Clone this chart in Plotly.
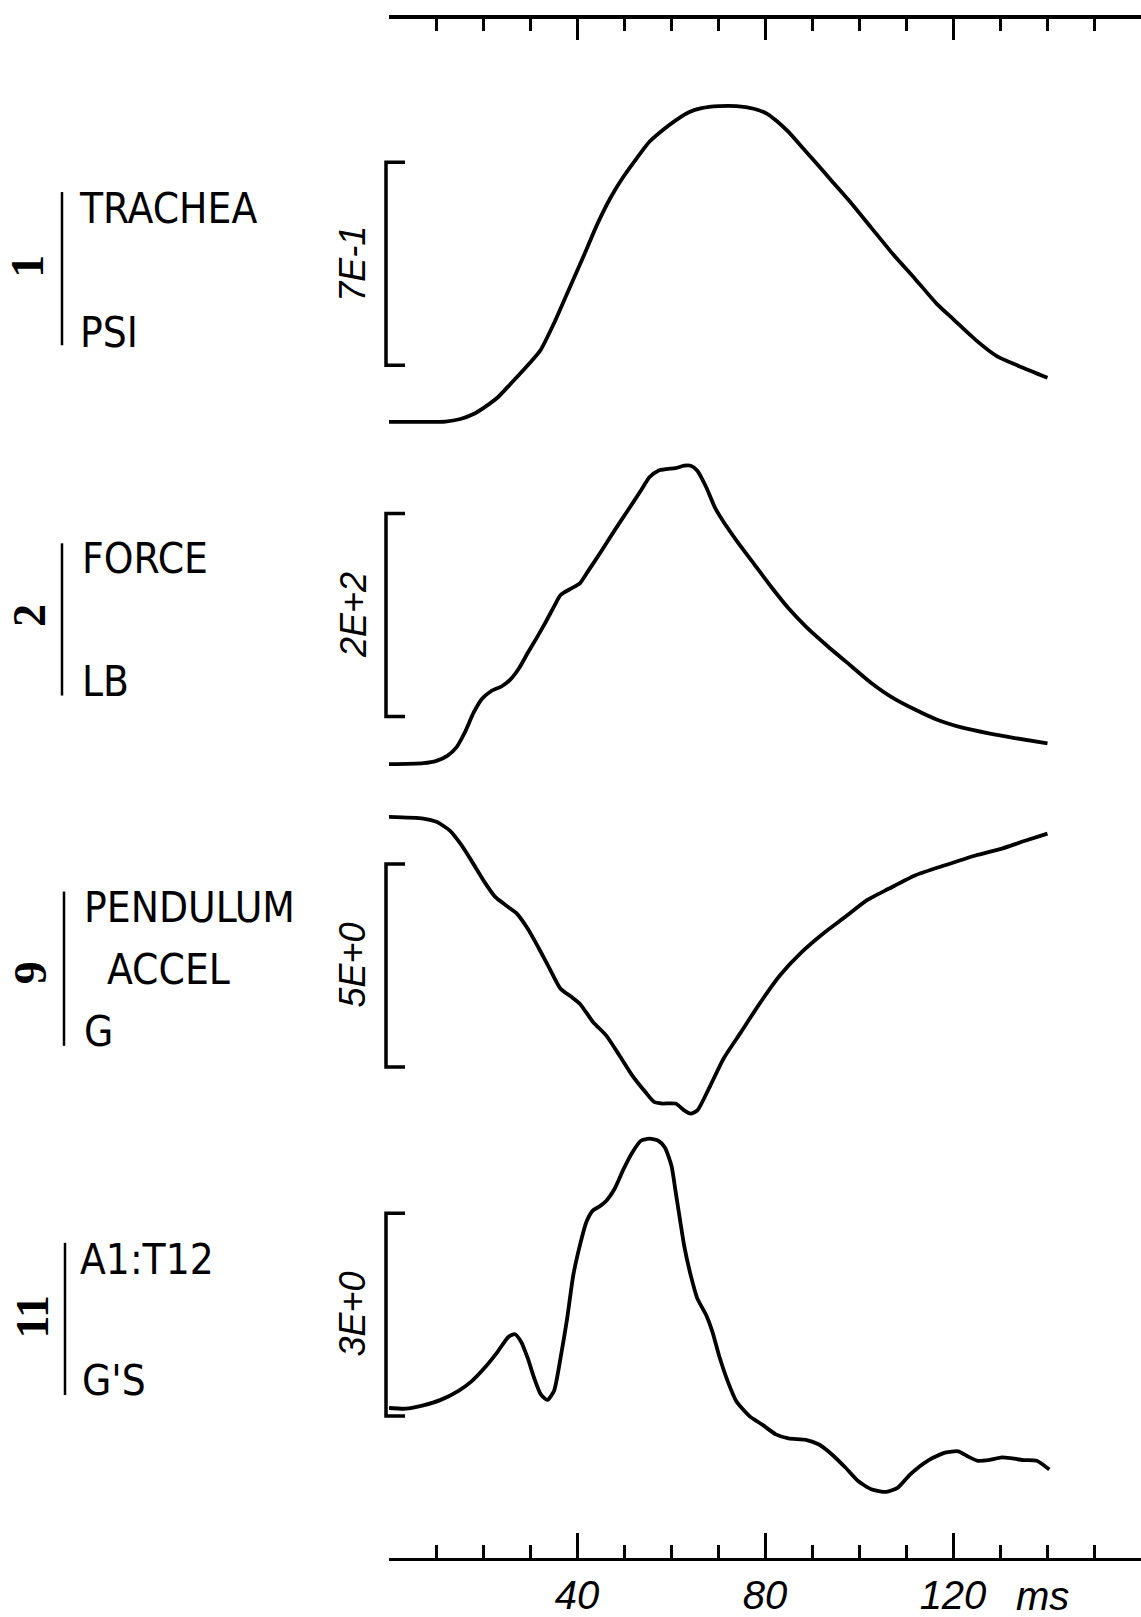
import plotly.graph_objects as go

# ---------------- data (time in ms, values in channel units) ----------------
t1 = [0, 7.3, 12.0, 15.2, 18.0, 20.3, 23.1, 25.8, 30.0, 32.3, 35.1, 37.9, 41.6, 44.3, 47.1, 49.9, 52.7, 55.4, 58.2, 61.0,
      63.8, 66.5, 70.2, 73.9, 77.6, 80.4, 82.3, 85.0, 87.8, 90.6, 94.3, 98.0, 102.6, 107.2, 111.9, 116.5, 120.2, 124.8, 129.4, 134.1, 140.1]
v1 = [0.0, 0.0, 0.001, 0.010, 0.027, 0.050, 0.084, 0.130, 0.204, 0.249, 0.340, 0.443, 0.579, 0.681, 0.772, 0.846, 0.909, 0.966, 1.006, 1.040,
      1.068, 1.082, 1.089, 1.089, 1.080, 1.063, 1.040, 1.000, 0.949, 0.898, 0.829, 0.761, 0.670, 0.579, 0.494, 0.408, 0.352, 0.283, 0.226, 0.192, 0.152]

t2 = [0, 7.3, 10.1, 12.4, 14.3, 16.1, 18.0, 19.8, 21.7, 24.0, 25.8, 27.7, 29.5, 31.4, 33.2, 35.1, 36.5, 38.8, 40.6, 42.5,
      45.3, 48.0, 50.8, 53.6, 55.4, 57.3, 59.1, 61.0, 62.8, 64.2, 65.6, 67.5, 69.3, 71.2, 73.9, 77.6, 81.3, 85.0, 88.7, 93.4,
      98.0, 102.6, 107.2, 111.9, 116.5, 122.0, 127.6, 133.1, 140.1]
v2 = [0, 1.0, 3.3, 8.2, 16.3, 31.0, 50.7, 64.4, 71.9, 76.8, 83.3, 94.8, 109.5, 124.2, 138.9, 155.2, 166.7, 173.2, 178.1, 191.2,
      210.8, 230.4, 250.0, 269.6, 282.7, 289.2, 290.8, 291.8, 294.1, 294.1, 289.2, 272.9, 253.3, 238.6, 220.6, 197.7, 174.8, 153.6, 135.6, 116.0,
      98.0, 80.1, 65.4, 53.9, 44.1, 36.0, 30.4, 25.8, 20.6]

t3 = [0, 7.3, 10.1, 12.9, 15.2, 17.5, 20.3, 22.6, 24.9, 27.2, 29.5, 31.9, 34.2, 36.5, 38.8, 40.6, 43.4, 46.2, 49.0, 51.7,
      54.5, 56.4, 58.2, 61.0, 62.8, 64.2, 65.6, 68.4, 71.2, 74.9, 78.6, 83.2, 87.8, 92.4, 97.1, 101.7, 106.3, 111.9, 118.3, 124.8,
      130.4, 135.0, 140.1]
v3 = [0, -0.04, -0.12, -0.33, -0.66, -1.07, -1.60, -1.97, -2.18, -2.38, -2.75, -3.24, -3.74, -4.23, -4.43, -4.60, -5.05, -5.38, -5.87, -6.36,
      -6.77, -7.02, -7.06, -7.06, -7.23, -7.31, -7.23, -6.61, -5.95, -5.30, -4.64, -3.90, -3.33, -2.87, -2.46, -2.05, -1.77, -1.44, -1.19, -0.95,
      -0.78, -0.60, -0.41]

t4 = [0, 3.6, 7.3, 11.0, 14.7, 17.5, 20.3, 23.1, 25.4, 26.8, 28.1, 29.5, 30.9, 32.3, 33.7, 35.1, 36.5, 37.9, 39.2, 40.6,
      42.0, 43.4, 44.8, 46.2, 48.0, 49.9, 51.7, 53.6, 55.4, 57.3, 58.7, 60.1, 61.0, 61.9, 62.8, 64.2, 65.6, 67.5, 68.8, 70.2,
      72.1, 73.9, 76.7, 79.5, 82.3, 85.0, 88.7, 91.5, 94.3, 97.1, 99.8, 102.6, 105.8, 108.2, 110.9, 114.6, 118.3, 121.1, 123.0, 125.3,
      127.6, 130.4, 132.2, 135.0, 137.8, 140.5]
v4 = [0.0, -0.01, 0.04, 0.12, 0.25, 0.39, 0.59, 0.83, 1.05, 1.09, 0.98, 0.74, 0.44, 0.20, 0.12, 0.25, 0.74, 1.32, 1.96, 2.40,
      2.75, 2.92, 2.98, 3.06, 3.24, 3.53, 3.77, 3.95, 3.98, 3.95, 3.85, 3.58, 3.19, 2.79, 2.40, 1.96, 1.62, 1.37, 1.13, 0.78,
      0.39, 0.10, -0.12, -0.25, -0.39, -0.45, -0.47, -0.54, -0.69, -0.88, -1.08, -1.20, -1.24, -1.18, -0.98, -0.78, -0.66, -0.64, -0.71, -0.78,
      -0.77, -0.73, -0.74, -0.77, -0.78, -0.91]

ch_numbers = ["1", "2", "9", "11"]
ch_names = ["TRACHEA", "FORCE", "PENDULUM", "A1:T12"]
ch_sub = [None, None, "ACCEL", None]
ch_units = ["PSI", "LB", "G", "G'S"]
scale_values = [0.7, 200.0, 5.0, 3.0]
scale_labels = ["7E-1", "2E+2", "5E+0", "3E+0"]
bracket_bottom = [0.195, 47.0, -6.16, -0.12]

major_ticks = [0, 40, 80, 120, 160]
major_labels = ["", "40", "80", "120", ""]
minor_ticks = [10, 20, 30, 50, 60, 70, 90, 100, 110, 130, 140, 150]
time_unit = "ms"
time_unit_pos = 139

# ---------------- layout constants (pixels) ----------------
W, H = 1141, 1617
zero_px = [424, 768, 821, 1415]      # pixel row of the zero level of each channel
bracket_px = 204                      # pixel height of each scale bracket
TEXT_FONT = "DejaVu Sans Condensed, Liberation Sans Narrow, Liberation Sans, sans-serif"
ITAL_FONT = "Liberation Sans, DejaVu Sans, sans-serif"
NUM_FONT = "Liberation Serif, DejaVu Serif, serif"

def py(p):
    return 1 - p / H

def px(p):
    return p / W

series = [(t1, v1), (t2, v2), (t3, v3), (t4, v4)]
ynames = ["y", "y2", "y3", "y4"]
ykeys = ["yaxis", "yaxis2", "yaxis3", "yaxis4"]

fig = go.Figure()
for (t, v), yn in zip(series, ynames):
    fig.add_trace(go.Scatter(x=t, y=v, mode="lines", xaxis="x", yaxis=yn,
                             line=dict(color="black", width=3.8, shape="spline", smoothing=0.6),
                             showlegend=False, hoverinfo="skip"))
# empty trace so the top time axis is drawn
fig.add_trace(go.Scatter(x=[], y=[], xaxis="x2", yaxis="y", showlegend=False, hoverinfo="skip"))

layout = dict(
    width=W, height=H, autosize=False,
    margin=dict(l=0, r=0, t=0, b=0, pad=0),
    paper_bgcolor="white", plot_bgcolor="white",
    showlegend=False,
    xaxis=dict(domain=[389 / W, 1.0], range=[0, 160], anchor="free", position=py(1567), side="bottom",
               showline=True, linecolor="black", linewidth=3, showgrid=False, zeroline=False,
               ticks="inside", ticklen=25, tickwidth=2.5, tickcolor="black",
               tickmode="array", tickvals=major_ticks, ticktext=major_labels,
               tickfont=dict(family=ITAL_FONT, size=40, color="black", style="italic"),
               minor=dict(tickmode="array", tickvals=minor_ticks, ticks="inside", ticklen=13,
                          tickwidth=2.5, tickcolor="black", showgrid=False),
               fixedrange=True),
    xaxis2=dict(domain=[384 / W, 1137 / W], range=[0, 160], anchor="free", position=py(17), side="top",
                overlaying="x", showline=True, linecolor="black", linewidth=4, showgrid=False, zeroline=False,
                ticks="inside", ticklen=21, tickwidth=2.5, tickcolor="black",
                tickmode="array", tickvals=major_ticks, showticklabels=False,
                minor=dict(tickmode="array", tickvals=minor_ticks, ticks="inside", ticklen=12,
                           tickwidth=2.5, tickcolor="black", showgrid=False),
                fixedrange=True),
)
for i, yk in enumerate(ykeys):
    k = bracket_px / scale_values[i]
    rng = [-(H - zero_px[i]) / k, zero_px[i] / k]
    ax = dict(domain=[0, 1], range=rng, visible=False, fixedrange=True)
    if i > 0:
        ax["overlaying"] = "y"
    layout[yk] = ax
fig.update_layout(**layout)

shapes = []
annotations = []
# scale brackets and scale labels
for i, yn in enumerate(ynames):
    lo = bracket_bottom[i]
    hi = lo + scale_values[i]
    xa, xb = px(386), px(405)
    shapes.append(dict(type="path", xref="paper", yref=yn,
                       path=f"M {xb},{hi} L {xa},{hi} L {xa},{lo} L {xb},{lo}",
                       line=dict(color="black", width=3.5)))
    annotations.append(dict(text=scale_labels[i], xref="paper", yref=yn, x=px(353), y=(lo + hi) / 2,
                            textangle=-90, showarrow=False, xanchor="center", yanchor="middle",
                            font=dict(family=ITAL_FONT, size=36, color="black", style="italic")))

# channel captions
num_pos = [(28, 268), (30, 619), (30, 978), (32, 1324)]
bar_pos = [(62, 193, 347), (62, 546, 699), (64, 896, 1051), (65, 1249, 1402)]
name_pos = [(77, 210), (80, 561), (82, 912), (78, 1266)]
sub_pos = [None, None, (105, 974), None]
unit_pos = [(78, 334), (80, 685), (82, 1037), (80, 1387)]
for i in range(4):
    nx, ny = num_pos[i]
    annotations.append(dict(text=ch_numbers[i], xref="paper", yref="paper", x=px(nx), y=py(ny),
                            textangle=-90, showarrow=False, xanchor="center", yanchor="middle",
                            font=dict(family=NUM_FONT, size=46, color="black", weight="bold")))
    bx, by0, by1 = bar_pos[i]
    shapes.append(dict(type="line", xref="paper", yref="paper", x0=px(bx), x1=px(bx), y0=py(by0), y1=py(by1),
                       line=dict(color="black", width=2.5)))
    for txt, pos in ((ch_names[i], name_pos[i]), (ch_sub[i], sub_pos[i]), (ch_units[i], unit_pos[i])):
        if txt is None:
            continue
        annotations.append(dict(text=txt, xref="paper", yref="paper", x=px(pos[0]), y=py(pos[1]),
                                showarrow=False, xanchor="left", yanchor="middle",
                                font=dict(family=TEXT_FONT, size=42, color="black")))

annotations.append(dict(text=time_unit, xref="x", yref="paper", x=time_unit_pos, y=py(1604),
                        showarrow=False, xanchor="center", yanchor="middle",
                        font=dict(family=ITAL_FONT, size=40, color="black", style="italic")))

fig.update_layout(shapes=shapes, annotations=annotations)
fig.write_html("out.html")
